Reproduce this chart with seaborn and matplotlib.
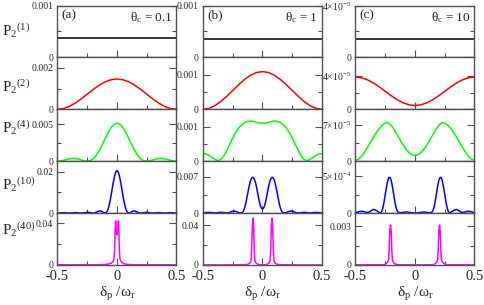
import matplotlib
matplotlib.use("Agg")
import matplotlib.pyplot as plt
import seaborn as sns
from matplotlib.ticker import FixedLocator, FixedFormatter

# x grids (detuning delta_p / omega_r)
x_line = [-0.5, 0.5]
x_c = [-0.5, -0.45, -0.4, -0.35, -0.3, -0.25, -0.2, -0.15, -0.1, -0.05, 0.0,
       0.05, 0.1, 0.15, 0.2, 0.25, 0.3, 0.35, 0.4, 0.45, 0.5]
x_f = [-0.5, -0.475, -0.45, -0.425, -0.4, -0.375, -0.35, -0.325, -0.3, -0.275,
       -0.25, -0.225, -0.2, -0.175, -0.15, -0.125, -0.1, -0.075, -0.05, -0.025,
       0.0, 0.025, 0.05, 0.075, 0.1, 0.125, 0.15, 0.175, 0.2, 0.225, 0.25,
       0.275, 0.3, 0.325, 0.35, 0.375, 0.4, 0.425, 0.45, 0.475, 0.5]

# P2^(1)
p1a = [3.8e-4, 3.8e-4]
p1b = [3.5e-4, 3.5e-4]
p1c = [1.43e-5, 1.43e-5]

# P2^(2)  (on x_c)
p2a = [0, 3.6e-5, 1.39e-4, 3.01e-4, 5.04e-4, 7.3e-4, 9.56e-4, 1.159e-3, 1.321e-3, 1.424e-3, 1.46e-3,
       1.424e-3, 1.321e-3, 1.159e-3, 9.56e-4, 7.3e-4, 5.04e-4, 3.01e-4, 1.39e-4, 3.6e-5, 0]
p2b = [0, 2.7e-5, 1.04e-4, 2.25e-4, 3.77e-4, 5.45e-4, 7.13e-4, 8.65e-4, 9.86e-4, 1.063e-3, 1.09e-3,
       1.063e-3, 9.86e-4, 8.65e-4, 7.13e-4, 5.45e-4, 3.77e-4, 2.25e-4, 1.04e-4, 2.7e-5, 0]
p2c = [3.85e-5, 3.77e-5, 3.53e-5, 3.15e-5, 2.68e-5, 2.15e-5, 1.62e-5, 1.15e-5, 7.75e-6, 5.3e-6, 4.5e-6,
       5.3e-6, 7.75e-6, 1.15e-5, 1.62e-5, 2.15e-5, 2.68e-5, 3.15e-5, 3.53e-5, 3.77e-5, 3.85e-5]

# P2^(4)  (on x_f)
p4a = [0, 3.1e-5, 1.14e-4, 2.22e-4, 3.21e-4, 3.76e-4, 3.66e-4, 2.89e-4, 1.7e-4, 5.3e-5, 0, 7.3e-5,
       3.2e-4, 7.7e-4, 1.41e-3, 2.19e-3, 3.04e-3, 3.86e-3, 4.54e-3, 4.98e-3, 5.14e-3,
       4.98e-3, 4.54e-3, 3.86e-3, 3.04e-3, 2.19e-3, 1.41e-3, 7.7e-4, 3.2e-4, 7.3e-5, 0,
       5.3e-5, 1.7e-4, 2.89e-4, 3.66e-4, 3.76e-4, 3.21e-4, 2.22e-4, 1.14e-4, 3.1e-5, 0]
p4b = [2.2e-4, 2.1e-4, 1.7e-4, 1.1e-4, 5e-5, 2e-5, 5e-5, 1.5e-4, 3.1e-4, 4.9e-4, 6.7e-4, 8.3e-4,
       9.6e-4, 1.05e-3, 1.12e-3, 1.15e-3, 1.16e-3, 1.15e-3, 1.12e-3, 1.10e-3, 1.10e-3,
       1.10e-3, 1.12e-3, 1.15e-3, 1.16e-3, 1.15e-3, 1.12e-3, 1.05e-3, 9.6e-4, 8.3e-4, 6.7e-4,
       4.9e-4, 3.1e-4, 1.5e-4, 5e-5, 2e-5, 5e-5, 1.1e-4, 1.7e-4, 2.1e-4, 2.2e-4]
p4c = [2e-6, 4e-6, 9e-6, 1.7e-5, 2.6e-5, 3.6e-5, 4.6e-5, 5.5e-5, 6.3e-5, 6.95e-5, 7.35e-5, 7.4e-5,
       6.9e-5, 6.1e-5, 5.1e-5, 4.1e-5, 3.1e-5, 2.3e-5, 1.65e-5, 1.25e-5, 1.1e-5,
       1.25e-5, 1.65e-5, 2.3e-5, 3.1e-5, 4.1e-5, 5.1e-5, 6.1e-5, 6.9e-5, 7.4e-5, 7.35e-5,
       6.95e-5, 6.3e-5, 5.5e-5, 4.6e-5, 3.6e-5, 2.6e-5, 1.7e-5, 9e-6, 4e-6, 2e-6]

# P2^(10)
x10a = [-0.5, -0.475, -0.45, -0.425, -0.4, -0.375, -0.35, -0.325, -0.3, -0.275, -0.25, -0.225,
        -0.2, -0.19, -0.18, -0.17, -0.16, -0.15, -0.14, -0.13, -0.12, -0.11, -0.1, -0.09, -0.08,
        -0.07, -0.06, -0.05, -0.04, -0.03, -0.02, -0.01, 0.0, 0.01, 0.02, 0.03, 0.04, 0.05, 0.06,
        0.07, 0.08, 0.09, 0.1, 0.11, 0.12, 0.13, 0.14, 0.15, 0.16, 0.17, 0.18, 0.19, 0.2,
        0.225, 0.25, 0.275, 0.3, 0.325, 0.35, 0.375, 0.4, 0.425, 0.45, 0.475, 0.5]
p10a = [0, 1.03e-4, 2.1e-4, 1.08e-4, 0, 1.2e-4, 2.6e-4, 1.41e-4, 0, 1.77e-4, 4.1e-4, 2.43e-4,
        0, 6.2e-5, 2.47e-4, 5.18e-4, 7.99e-4, 9.95e-4, 1.023e-3, 8.51e-4, 5.23e-4, 1.71e-4, 0,
        2.52e-4, 1.145e-3, 2.82e-3, 5.28e-3, 8.38e-3, 1.181e-2, 1.515e-2, 1.796e-2, 1.984e-2, 2.05e-2,
        1.984e-2, 1.796e-2, 1.515e-2, 1.181e-2, 8.38e-3, 5.28e-3, 2.82e-3, 1.145e-3, 2.52e-4, 0,
        1.71e-4, 5.23e-4, 8.51e-4, 1.023e-3, 9.95e-4, 7.99e-4, 5.18e-4, 2.47e-4, 6.2e-5, 0,
        2.43e-4, 4.1e-4, 1.77e-4, 0, 1.41e-4, 2.6e-4, 1.2e-4, 0, 1.08e-4, 2.1e-4, 1.03e-4, 0]
x10b = [-0.5, -0.475, -0.45, -0.425, -0.4, -0.375, -0.35, -0.325, -0.3, -0.28, -0.26, -0.24, -0.22,
        -0.2, -0.18, -0.17, -0.16, -0.15, -0.14, -0.13, -0.12, -0.11, -0.1, -0.09, -0.08, -0.07,
        -0.06, -0.05, -0.04, -0.03, -0.02, -0.01, 0.0, 0.01, 0.02, 0.03, 0.04, 0.05, 0.06, 0.07,
        0.08, 0.09, 0.1, 0.11, 0.12, 0.13, 0.14, 0.15, 0.16, 0.17, 0.18, 0.2, 0.22, 0.24, 0.26,
        0.28, 0.3, 0.325, 0.35, 0.375, 0.4, 0.425, 0.45, 0.475, 0.5]
p10b = [5e-5, 1e-4, 1.3e-4, 1e-4, 2e-5, 1e-4, 1.5e-4, 1e-4, 2e-5, 1e-4, 3e-4, 4e-4, 3e-4,
        1e-4, 0, 1e-4, 4e-4, 1.0e-3, 1.9e-3, 3.1e-3, 4.3e-3, 5.4e-3, 6.3e-3, 6.8e-3, 6.9e-3,
        6.6e-3, 6.0e-3, 5.0e-3, 3.8e-3, 2.6e-3, 1.6e-3, 1.0e-3, 7.7e-4, 1.0e-3, 1.6e-3, 2.6e-3,
        3.8e-3, 5.0e-3, 6.0e-3, 6.6e-3, 6.9e-3, 6.8e-3, 6.3e-3, 5.4e-3, 4.3e-3, 3.1e-3, 1.9e-3,
        1.0e-3, 4e-4, 1e-4, 0, 1e-4, 3e-4, 4e-4, 3e-4, 1e-4, 2e-5, 1e-4, 1.5e-4, 1e-4, 2e-5,
        1e-4, 1.3e-4, 1e-4, 5e-5]
x10c = [-0.5, -0.49, -0.47, -0.45, -0.43, -0.41, -0.39, -0.37, -0.35, -0.33, -0.31, -0.29, -0.28,
        -0.27, -0.26, -0.25, -0.24, -0.23, -0.22, -0.21, -0.2, -0.19, -0.18, -0.17, -0.16, -0.15,
        -0.14, -0.125, -0.1, -0.075, -0.05, -0.025, 0.0, 0.025, 0.05, 0.075, 0.1, 0.125, 0.14,
        0.15, 0.16, 0.17, 0.18, 0.19, 0.2, 0.21, 0.22, 0.23, 0.24, 0.25, 0.26, 0.27, 0.28, 0.29,
        0.31, 0.33, 0.35, 0.37, 0.39, 0.41, 0.43, 0.45, 0.47, 0.49, 0.5]
p10c = [5e-6, 1e-5, 2e-5, 2.5e-5, 2e-5, 1e-5, 1e-5, 3e-5, 5e-5, 4e-5, 2e-5, 0, 2e-5,
        7e-5, 1.5e-4, 2.5e-4, 3.5e-4, 4.3e-4, 4.8e-4, 4.8e-4, 4.4e-4, 3.6e-4, 2.6e-4, 1.6e-4,
        8e-5, 3e-5, 1e-5, 5e-6, 1e-5, 1.5e-5, 1e-5, 5e-6, 0, 5e-6, 1e-5, 1.5e-5, 1e-5, 5e-6,
        1e-5, 3e-5, 8e-5, 1.6e-4, 2.6e-4, 3.6e-4, 4.4e-4, 4.8e-4, 4.8e-4, 4.3e-4, 3.5e-4,
        2.5e-4, 1.5e-4, 7e-5, 2e-5, 0, 2e-5, 4e-5, 5e-5, 3e-5, 1e-5, 1e-5, 2e-5, 2.5e-5, 2e-5,
        1e-5, 5e-6]

# P2^(40)
x40a = [-0.5, -0.3, -0.15, -0.1, -0.07, -0.05, -0.04, -0.03, -0.025, -0.02, -0.015, -0.012,
        -0.008, -0.004, 0.0, 0.004, 0.008, 0.012, 0.015, 0.02, 0.025, 0.03, 0.04, 0.05, 0.07,
        0.1, 0.15, 0.3, 0.5]
p40a = [2e-4, 2e-4, 3e-4, 5e-4, 9e-4, 1.6e-3, 2.5e-3, 4e-3, 6e-3, 1.5e-2, 3.5e-2, 4.25e-2,
        3.7e-2, 3.1e-2, 2.9e-2, 3.1e-2, 3.7e-2, 4.25e-2, 3.5e-2, 1.5e-2, 6e-3, 4e-3, 2.5e-3,
        1.6e-3, 9e-4, 5e-4, 3e-4, 2e-4, 2e-4]
x40b = [-0.5, -0.3, -0.2, -0.13, -0.11, -0.1, -0.095, -0.09, -0.085, -0.08, -0.075, -0.07,
        -0.065, -0.06, -0.05, -0.03, 0.0, 0.03, 0.05, 0.06, 0.065, 0.07, 0.075, 0.08, 0.085,
        0.09, 0.095, 0.1, 0.11, 0.13, 0.2, 0.3, 0.5]
p40b = [1e-4, 1e-4, 2e-4, 5e-4, 1.5e-3, 3e-3, 6e-3, 2e-2, 4e-2, 4.7e-2, 4e-2, 2e-2, 6e-3,
        3e-3, 1.5e-3, 4e-4, 2e-4, 4e-4, 1.5e-3, 3e-3, 6e-3, 2e-2, 4e-2, 4.7e-2, 4e-2, 2e-2,
        6e-3, 3e-3, 1.5e-3, 5e-4, 2e-4, 1e-4, 1e-4]
x40c = [-0.5, -0.26, -0.245, -0.232, -0.222, -0.217, -0.212, -0.206, -0.2, -0.195, -0.19,
        -0.18, -0.17, -0.15, 0.0, 0.15, 0.17, 0.18, 0.19, 0.195, 0.2, 0.206, 0.212, 0.217,
        0.222, 0.232, 0.245, 0.26, 0.5]
p40c = [1e-5, 2e-5, 1e-4, 2e-4, 4e-4, 1.2e-3, 2.6e-3, 3.08e-3, 2.6e-3, 1.2e-3, 4e-4, 2e-4,
        1e-4, 2e-5, 1e-5, 2e-5, 1e-4, 2e-4, 4e-4, 1.2e-3, 2.6e-3, 3.08e-3, 2.6e-3, 1.2e-3,
        4e-4, 2e-4, 1e-4, 2e-5, 1e-5]

orders = ["1", "2", "4", "10", "40"]
thetas = ["0.1", "1", "10"]
letters = ["(a)", "(b)", "(c)"]
colors = ["black", "#ff0000", "#00ff00", "#0000ff", "#ff00ff"]

curves = [
    [(x_line, p1a), (x_line, p1b), (x_line, p1c)],
    [(x_c, p2a), (x_c, p2b), (x_c, p2c)],
    [(x_f, p4a), (x_f, p4b), (x_f, p4c)],
    [(x10a, p10a), (x10b, p10b), (x10c, p10c)],
    [(x40a, p40a), (x40b, p40b), (x40c, p40c)],
]
ytop = [[0.001, 0.001, 4e-5], [0.0025, 0.0015, 6.2e-5], [0.007, 0.0015, 1e-4],
        [0.025, 0.01, 7e-4], [0.05, 0.052, 0.004]]
ymajor = [[0.001, 0.001, 4e-5], [0.002, 0.001, 4e-5], [0.005, 0.001, 7e-5],
          [0.02, 0.007, 5e-4], [0.04, 0.04, 0.003]]
ylabs = [["0.001", "0.001", "4×10$^{-5}$"], ["0.002", "0.001", "4×10$^{-5}$"],
         ["0.005", "0.001", "7×10$^{-5}$"], ["0.02", "0.007", "5×10$^{-4}$"],
         ["0.04", "0.04", "0.003"]]

sns.set_style("ticks")
plt.rcParams["font.family"] = ["Liberation Serif", "DejaVu Serif"]
plt.rcParams["mathtext.fontset"] = "custom"
plt.rcParams["mathtext.rm"] = "Liberation Serif"
plt.rcParams["mathtext.it"] = "Liberation Serif"

W, H = 485, 305
fig = plt.figure(figsize=(W / 100, H / 100), dpi=100)
col_left = [57.5, 203, 355.5]
col_w = 119
row_top = 5.5
row_h = 51.9
frame = "#505050"

for r in range(5):
    for c in range(3):
        top = row_top + r * row_h
        ax = fig.add_axes([col_left[c] / W, 1 - (top + row_h) / H, col_w / W, row_h / H])
        xs, ys = curves[r][c]
        sns.lineplot(x=xs, y=ys, ax=ax, color=colors[r], linewidth=1.1,
                     estimator=None, sort=False)
        ax.set_xlim(-0.5, 0.5)
        ax.set_ylim(0, ytop[r][c])
        ax.xaxis.set_major_locator(FixedLocator([-0.5, 0, 0.5]))
        ax.xaxis.set_minor_locator(FixedLocator([-0.25, 0.25]))
        ax.yaxis.set_major_locator(FixedLocator([0, ymajor[r][c]]))
        ax.yaxis.set_major_formatter(FixedFormatter(["0", ylabs[r][c]]))
        ax.yaxis.set_minor_locator(FixedLocator([ymajor[r][c] / 2]))
        ax.tick_params(which="both", direction="in", color=frame, width=0.8,
                       left=True, right=True, top=False, bottom=True)
        ax.tick_params(which="major", length=5)
        ax.tick_params(which="minor", length=3)
        ax.tick_params(axis="y", labelsize=7, pad=3)
        ax.tick_params(axis="x", labelsize=10.5, pad=3.5)
        if r < 4:
            ax.set_xticklabels([])
        else:
            ax.set_xticklabels(["-0.5", "0", "0.5"])
        for sp in ax.spines.values():
            sp.set_color(frame)
            sp.set_linewidth(1.0)
        ax.set_xlabel("")
        ax.set_ylabel("")
        if r == 0:
            ax.text(4 / col_w, 1 - 3.5 / row_h, letters[c], transform=ax.transAxes,
                    ha="left", va="top", fontsize=9.5)
            ax.text(1 - 4 / col_w, 1 - 5 / row_h, "θ$_\\mathrm{c}$ = " + thetas[c],
                    transform=ax.transAxes, ha="right", va="top", fontsize=9.5)
    # row label
    label_y = [31, 87, 128, 185, 230][r]
    fig.text(2 / W, 1 - label_y / H, "P$_2{}^{(" + orders[r] + ")}$",
             ha="left", va="center", fontsize=11)

for c in range(3):
    fig.text((col_left[c] + col_w / 2) / W, 1 - 294 / H,
             "δ$_\\mathrm{p}$ /ω$_\\mathrm{r}$", ha="center", va="center", fontsize=11)

fig.savefig("out.png", dpi=100)
